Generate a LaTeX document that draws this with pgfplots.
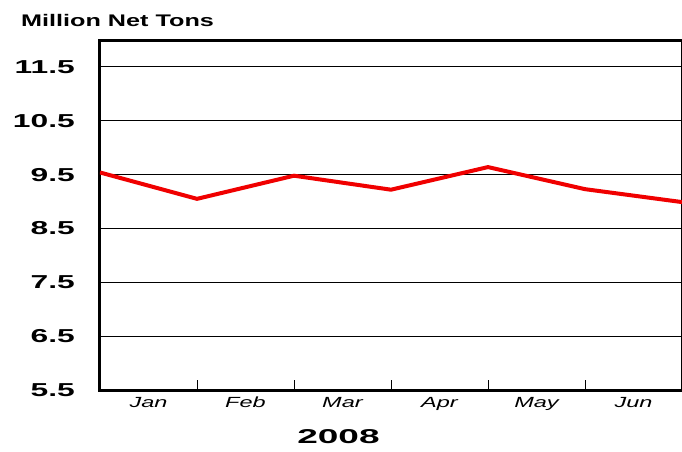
\documentclass[border=0pt]{standalone}
\usepackage{fontspec}
\usepackage{pgfplots}
\pgfplotsset{compat=1.18}
\newfontfamily\tickff[FakeStretch=1.7]{Liberation Sans}
\newfontfamily\monthff[FakeStretch=1.6]{Liberation Sans}
\newfontfamily\yearff[FakeStretch=1.85]{Liberation Sans}
\newfontfamily\titleff[FakeStretch=1.5]{Liberation Sans}
\newcommand\tickfont{\tickff\bfseries\fontsize{18.7}{20}\selectfont}
\newcommand\monthfont{\monthff\itshape\fontsize{14.7}{16}\selectfont}
\newcommand\yearfont{\yearff\bfseries\fontsize{20}{22}\selectfont}
\newcommand\titlefont{\titleff\bfseries\fontsize{16.8}{18}\selectfont}
\begin{document}
\begin{tikzpicture}
\useasboundingbox (-100pt,-61pt) rectangle (582pt,390pt);
\begin{axis}[
  scale only axis, width=582pt, height=350pt,
  xmin=0, xmax=6, ymin=5.5, ymax=12,
  axis line style={line width=3pt},
  ytick={5.5,6.5,7.5,8.5,9.5,10.5,11.5},
  yticklabels={5.5,6.5,7.5,8.5,9.5,10.5,11.5},
  ymajorgrids, grid style={black, line width=1pt},
  ytick style={draw=none},
  yticklabel style={font=\tickfont, anchor=east, inner sep=0pt, xshift=-25pt},
  xtick={0,1,2,3,4,5,6},
  x tick label as interval,
  xticklabels={Jan,Feb,Mar,Apr,May,Jun},
  xtick pos=bottom, tick align=inside,
  major tick length=10pt,
  xtick style={black, line width=1pt},
  xticklabel style={font=\monthfont, anchor=north, inner sep=0pt, yshift=-7pt},
]
\addplot[color={rgb,255:red,240;green,0;blue,0}, line width=4pt, line join=round]
  coordinates {(0,9.54)(1,9.05)(2,9.48)(3,9.22)(4,9.64)(5,9.23)(6,8.99)};
\end{axis}
\node[font=\yearfont, anchor=center] at (238.5pt,-47pt) {2008};
\node[font=\titlefont, anchor=west, inner sep=0pt] at (-79pt,370pt) {Million Net Tons};
\end{tikzpicture}
\end{document}
